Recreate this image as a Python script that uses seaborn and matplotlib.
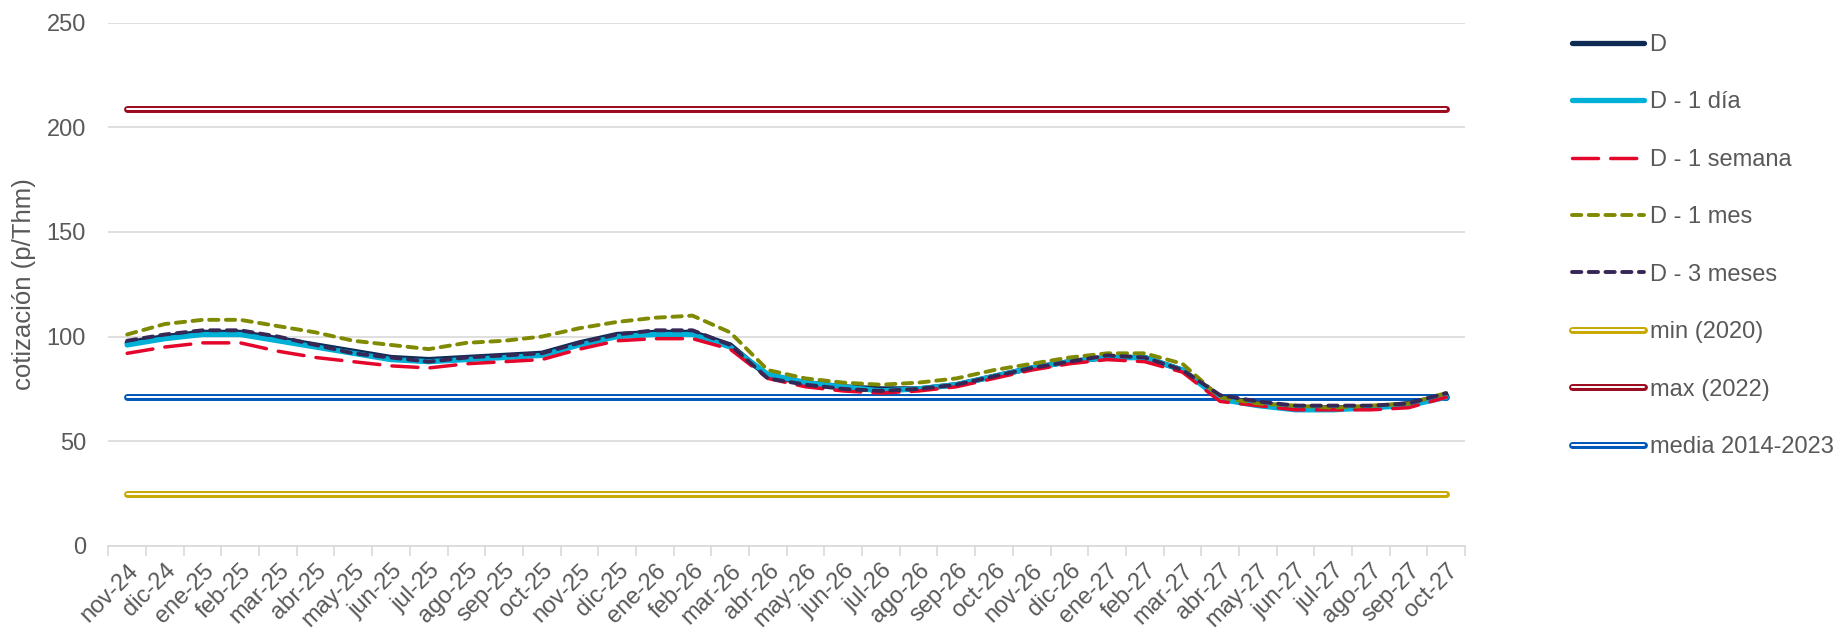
import numpy as np
import matplotlib
matplotlib.use("Agg")
import matplotlib.pyplot as plt
import pandas as pd
import seaborn as sns
from matplotlib.lines import Line2D
from matplotlib.legend_handler import HandlerTuple

# Data
months = ["nov-24", "dic-24", "ene-25", "feb-25", "mar-25", "abr-25", "may-25", "jun-25",
          "jul-25", "ago-25", "sep-25", "oct-25", "nov-25", "dic-25", "ene-26", "feb-26",
          "mar-26", "abr-26", "may-26", "jun-26", "jul-26", "ago-26", "sep-26", "oct-26",
          "nov-26", "dic-26", "ene-27", "feb-27", "mar-27", "abr-27", "may-27", "jun-27",
          "jul-27", "ago-27", "sep-27", "oct-27"]
d = [97, 100, 102, 102, 99, 96, 93, 90, 89, 90, 91, 92, 97, 101, 102, 102, 96, 81,
     78, 76, 75, 75, 77, 81, 85, 88, 90, 90, 84, 71, 68, 66, 66, 66, 68, 72]
d_1dia = [96, 99, 101, 101, 98, 95, 92, 89, 88, 89, 90, 91, 96, 100, 101, 101, 95, 82,
          78, 76, 74, 75, 77, 81, 85, 88, 90, 90, 84, 70, 67, 65, 65, 66, 67, 71]
d_1sem = [92, 95, 97, 97, 93, 90, 88, 86, 85, 87, 88, 89, 94, 98, 99, 99, 94, 80,
          76, 74, 73, 74, 76, 80, 84, 87, 89, 88, 83, 69, 67, 65, 65, 65, 66, 71]
d_1mes = [101, 106, 108, 108, 105, 102, 98, 96, 94, 97, 98, 100, 104, 107, 109, 110, 102, 84,
          80, 78, 77, 78, 80, 84, 87, 90, 92, 92, 87, 71, 68, 67, 66, 67, 68, 73]
d_3mes = [98, 101, 103, 103, 100, 96, 92, 90, 88, 90, 91, 92, 97, 101, 103, 103, 96, 80,
          77, 75, 74, 75, 77, 81, 85, 88, 91, 90, 84, 72, 69, 67, 67, 67, 68, 73]
min_2020 = 25
max_2022 = 209
media = 71

sns.set_theme(style="white")
plt.rcParams['font.family'] = ['Liberation Sans', 'DejaVu Sans']
grey = "#595959"
fs = 17

fig = plt.figure(figsize=(18.36, 6.31), dpi=100)
ax = fig.add_axes([0.059, 0.135, 0.739, 0.829])

x = np.arange(len(months))
df = pd.DataFrame({"x": x, "D": d, "D - 1 día": d_1dia, "D - 1 semana": d_1sem,
                   "D - 1 mes": d_1mes, "D - 3 meses": d_3mes,
                   "min (2020)": min_2020, "max (2022)": max_2022,
                   "media 2014-2023": media})

handles = []
# Double lines (reference levels)
for col, c in [("min (2020)", "#c9a800"), ("max (2022)", "#9b0a1e"), ("media 2014-2023", "#0057b8")]:
    sns.lineplot(data=df, x="x", y=col, ax=ax, color=c, lw=5, solid_capstyle="round", zorder=2)
    sns.lineplot(data=df, x="x", y=col, ax=ax, color="white", lw=1.4, solid_capstyle="round", zorder=2)

styles = [
    ("D", dict(color="#0d2b55", lw=3.8, solid_capstyle="round")),
    ("D - 1 día", dict(color="#00b0d6", lw=3.8, solid_capstyle="round")),
    ("D - 1 semana", dict(color="#e4062b", lw=2.5, dashes=(7.5, 3.5), dash_capstyle="round")),
    ("D - 1 mes", dict(color="#7f8a00", lw=2.8, dashes=(2.4, 1.9), dash_capstyle="round")),
    ("D - 3 meses", dict(color="#362756", lw=2.8, dashes=(2.4, 1.9), dash_capstyle="round")),
]
for col, kw in styles:
    sns.lineplot(data=df, x="x", y=col, ax=ax, zorder=3, **kw)
    handles.append(Line2D([], [], **kw))

for c in ["#c9a800", "#9b0a1e", "#0057b8"]:
    handles.append((Line2D([], [], color=c, lw=5, solid_capstyle="round"),
                    Line2D([], [], color="white", lw=1.4, solid_capstyle="round")))

labels = ["D", "D - 1 día", "D - 1 semana", "D - 1 mes", "D - 3 meses",
          "min (2020)", "max (2022)", "media 2014-2023"]

ax.set_xlim(-0.5, len(months) - 0.5)
ax.set_ylim(0, 250)
ax.set_yticks(range(0, 251, 50))
ax.yaxis.grid(True, color="#d9d9d9", lw=1.2)
ax.set_xticks(x)
ax.set_xticklabels(months, rotation=45, ha="right", rotation_mode="anchor")
ax.set_xticks(np.arange(-0.5, len(months), 1), minor=True)
ax.tick_params(axis="x", which="major", length=0, pad=10, labelsize=fs, colors=grey)
ax.tick_params(axis="x", which="minor", length=7, width=1.2, color="#d9d9d9", direction="out", bottom=True)
ax.tick_params(axis="y", length=0, labelsize=fs, colors=grey, pad=16)
for s in ["top", "right", "left"]:
    ax.spines[s].set_visible(False)
ax.spines["bottom"].set_color("#d9d9d9")
ax.spines["bottom"].set_linewidth(1.2)
ax.set_xlabel("")
ax.set_ylabel("cotización (p/Thm)", fontsize=18.5, color=grey, labelpad=8)

fig.legend(handles, labels, loc="upper left", bbox_to_anchor=(0.856, 0.946),
           frameon=False, fontsize=fs, handlelength=3.05, handletextpad=0.25,
           labelspacing=1.5, borderpad=0, borderaxespad=0, labelcolor=grey,
           handler_map={tuple: HandlerTuple(ndivide=1)})

fig.savefig("out.png", dpi=100)
